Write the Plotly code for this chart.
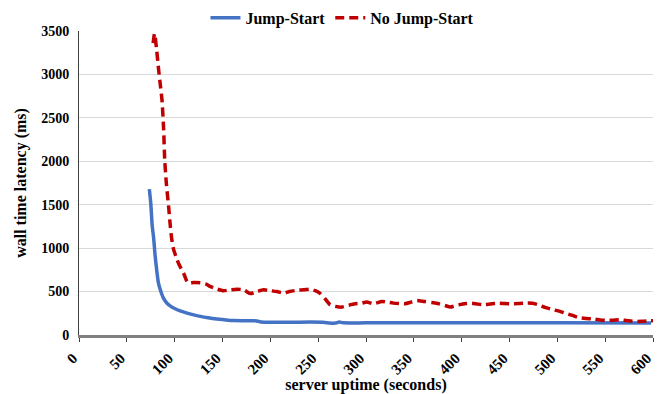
import plotly.graph_objects as go

# Jump-Start series
js_x = [73.5, 75, 76.5, 78, 79.5, 81.5, 83, 85, 88, 92, 96, 99, 105, 113, 120, 127, 135, 144, 152, 161,
        175, 186, 190, 220, 255, 262, 268, 272, 276, 300, 400, 500, 598]
js_y = [1680, 1520, 1260, 1120, 920, 720, 600, 520, 430, 365, 330, 310, 280, 252, 232, 214, 198, 184, 175, 166,
        164, 162, 150, 148, 147, 138, 137, 150, 140, 140, 140, 140, 138]

# No Jump-Start series
njs_x = [77.5, 79, 81, 83.3, 85, 86.8, 88.5, 89.6, 91.3, 93.7, 95.5, 97, 99, 101.5, 104, 107, 109.4, 113, 115.7,
         120, 127, 133, 137, 144, 151, 158, 165, 172, 179, 186, 193, 200, 207, 214, 220, 228, 235, 241.6, 247,
         252, 257, 262.5, 268, 274.7, 281, 288.6, 295, 300.8, 307.7, 316.5, 322, 328.6, 335, 340.8, 347, 353,
         361, 368.7, 375, 382.6, 388, 393, 398, 405, 410.4, 416, 422.5, 430, 438, 445, 452, 460, 467, 474, 480,
         488, 495.6, 502, 508, 515, 521.7, 530, 537.4, 545, 551.4, 558, 565, 573, 581, 589, 596.6, 600]
njs_y = [3360, 3470, 3300, 3046, 2880, 2700, 2357, 2013, 1745, 1476, 1247, 1100, 980, 900, 826, 760, 712, 615, 597,
         605, 600, 585, 560, 530, 510, 520, 528, 520, 478, 500, 520, 510, 500, 482, 500, 515, 520, 528, 510,
         480, 420, 348, 330, 321, 340, 359, 365, 380, 359, 386, 378, 367, 362, 360, 378, 397,
         385, 374, 362, 340, 322, 335, 350, 362, 367, 358, 348, 358, 367, 362, 360, 362, 367, 365, 348,
         315, 290, 275, 252, 228, 202, 190, 184, 172, 168, 170, 176, 165, 156, 158, 164, 165]

x_ticks = list(range(0, 601, 50))
y_ticks = list(range(0, 3501, 500))

FONT = "Liberation Serif"

fig = go.Figure()
fig.add_trace(go.Scatter(x=js_x, y=js_y, mode="lines", name="Jump-Start",
                         line=dict(color="#4472C4", width=3.5, shape="spline", smoothing=0.6)))
fig.add_trace(go.Scatter(x=njs_x, y=njs_y, mode="lines", name="No Jump-Start",
                         line=dict(color="#C00000", width=3.5, dash="9px,5px", shape="spline", smoothing=0.6)))

fig.update_layout(
    width=657, height=394,
    margin=dict(l=78.5, r=3.5, t=30.7, b=58.7, autoexpand=False),
    paper_bgcolor="white", plot_bgcolor="white",
    font=dict(family=FONT, color="black", size=14),
    legend=dict(orientation="h", x=0.459, xanchor="center", yref="container", y=0.955, yanchor="middle",
                font=dict(family=FONT, size=16, color="black", weight="bold"),
                itemwidth=30, tracegroupgap=0, bgcolor="rgba(0,0,0,0)"),
    showlegend=True,
)
fig.update_xaxes(range=[0, 600], tickvals=x_ticks, ticktext=[str(v) for v in x_ticks],
                 tickangle=-45, ticks="outside", ticklen=4, tickcolor="#404040", tickwidth=1,
                 showline=True, linecolor="#808080", linewidth=2.5, showgrid=False, zeroline=False,
                 automargin=False, ticklabeloverflow="allow", ticklabelshift=-6, ticklabelstandoff=2,
                 tickfont=dict(family=FONT, size=15, weight="bold", color="black"),
                 title=dict(text="server uptime (seconds)", standoff=10,
                            font=dict(family=FONT, size=16, weight="bold", color="black")))
fig.update_yaxes(range=[0, 3500], tickvals=y_ticks, ticktext=[str(v) for v in y_ticks],
                 ticks="", showline=True, linecolor="#404040", linewidth=1,
                 showgrid=True, gridcolor="#D9D9D9", gridwidth=1, zeroline=False,
                 automargin=False, ticklabelstandoff=6,
                 tickfont=dict(family=FONT, size=14, weight="bold", color="black"),
                 title=dict(text="wall time latency (ms)", standoff=10,
                            font=dict(family=FONT, size=16, weight="bold", color="black")))

fig.write_html("out.html")
